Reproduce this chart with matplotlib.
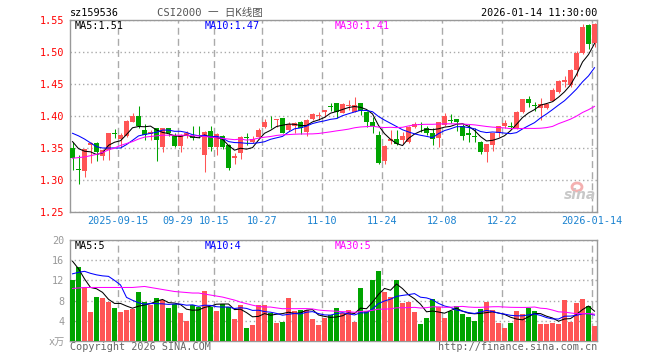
import numpy as np
import pandas as pd
import matplotlib
matplotlib.use("Agg")
import matplotlib.pyplot as plt
from matplotlib.patches import Ellipse

plt.rcParams['font.family'] = ['DejaVu Sans Mono', 'Noto Sans CJK SC']

# daily candles, 2025-09-03 .. 2026-01-14 (88 sessions)
opens = [1.350, 1.317, 1.314, 1.355, 1.358, 1.338, 1.347, 1.374, 1.364, 1.368,
         1.391, 1.400, 1.378, 1.372, 1.381, 1.352, 1.381, 1.369, 1.353, 1.370,
         1.369, 1.370, 1.339, 1.377, 1.352, 1.369, 1.355, 1.335, 1.342, 1.367,
         1.360, 1.367, 1.383, 1.391, 1.393, 1.397, 1.378, 1.385, 1.391, 1.375,
         1.396, 1.400, 1.406, 1.416, 1.420, 1.405, 1.415, 1.407, 1.420, 1.407,
         1.390, 1.370, 1.329, 1.361, 1.364, 1.362, 1.360, 1.383, 1.388, 1.381,
         1.374, 1.366, 1.386, 1.394, 1.395, 1.384, 1.373, 1.368, 1.360, 1.344,
         1.354, 1.373, 1.384, 1.385, 1.381, 1.406, 1.426, 1.417, 1.413, 1.413,
         1.424, 1.438, 1.453, 1.449, 1.472, 1.498, 1.542, 1.514]
highs = [1.360, 1.339, 1.349, 1.360, 1.359, 1.349, 1.374, 1.380, 1.374, 1.393,
         1.404, 1.415, 1.387, 1.378, 1.382, 1.381, 1.382, 1.374, 1.372, 1.377,
         1.384, 1.384, 1.376, 1.384, 1.373, 1.370, 1.356, 1.342, 1.368, 1.374,
         1.368, 1.382, 1.395, 1.400, 1.396, 1.397, 1.391, 1.390, 1.392, 1.395,
         1.404, 1.407, 1.410, 1.421, 1.421, 1.421, 1.425, 1.429, 1.421, 1.408,
         1.399, 1.377, 1.354, 1.378, 1.378, 1.375, 1.384, 1.391, 1.391, 1.384,
         1.382, 1.391, 1.404, 1.403, 1.396, 1.388, 1.387, 1.381, 1.361, 1.357,
         1.374, 1.385, 1.394, 1.391, 1.408, 1.427, 1.432, 1.422, 1.428, 1.419,
         1.444, 1.456, 1.462, 1.473, 1.501, 1.544, 1.543, 1.545]
lows = [1.316, 1.294, 1.304, 1.327, 1.330, 1.331, 1.331, 1.365, 1.352, 1.367,
        1.390, 1.381, 1.363, 1.362, 1.329, 1.343, 1.368, 1.352, 1.343, 1.365,
        1.363, 1.365, 1.313, 1.346, 1.339, 1.348, 1.315, 1.325, 1.333, 1.354,
        1.358, 1.365, 1.382, 1.382, 1.383, 1.373, 1.377, 1.373, 1.372, 1.369,
        1.393, 1.394, 1.399, 1.408, 1.397, 1.404, 1.409, 1.406, 1.402, 1.383,
        1.374, 1.325, 1.325, 1.356, 1.354, 1.356, 1.358, 1.382, 1.375, 1.370,
        1.355, 1.352, 1.385, 1.389, 1.377, 1.362, 1.359, 1.359, 1.340, 1.328,
        1.345, 1.367, 1.381, 1.379, 1.380, 1.405, 1.414, 1.408, 1.394, 1.411,
        1.423, 1.436, 1.446, 1.446, 1.462, 1.497, 1.505, 1.508]
closes = [1.334, 1.315, 1.348, 1.358, 1.344, 1.347, 1.374, 1.372, 1.370, 1.392,
          1.400, 1.384, 1.370, 1.375, 1.362, 1.381, 1.374, 1.353, 1.370, 1.374,
          1.365, 1.368, 1.375, 1.352, 1.372, 1.352, 1.319, 1.338, 1.367, 1.365,
          1.364, 1.378, 1.391, 1.390, 1.395, 1.374, 1.387, 1.389, 1.381, 1.394,
          1.403, 1.402, 1.409, 1.414, 1.407, 1.419, 1.417, 1.417, 1.408, 1.390,
          1.384, 1.327, 1.353, 1.364, 1.357, 1.368, 1.383, 1.387, 1.386, 1.373,
          1.364, 1.390, 1.400, 1.392, 1.390, 1.368, 1.370, 1.367, 1.344, 1.356,
          1.373, 1.384, 1.389, 1.383, 1.406, 1.426, 1.420, 1.415, 1.418, 1.418,
          1.441, 1.455, 1.457, 1.472, 1.499, 1.539, 1.513, 1.543]
volumes = [12.08, 14.6, 10.6, 5.74, 8.71, 8.5, 7.72, 6.53, 5.74, 6.14,
           6.34, 9.7, 7.72, 7.13, 8.5, 8.1, 6.53, 7.33, 5.54, 3.96,
           7.13, 6.73, 9.9, 6.73, 5.94, 7.33, 6.73, 4.36, 7.13, 2.57,
           3.17, 7.13, 7.13, 5.54, 3.56, 3.76, 8.5, 5.94, 6.14, 6.14,
           4.36, 3.17, 4.55, 5.15, 6.53, 5.61, 6.14, 3.76, 10.5, 5.94,
           12.08, 13.86, 9.7, 8.71, 12.08, 7.52, 7.72, 5.74, 3.37, 4.55,
           8.32, 6.73, 4.55, 5.94, 6.93, 5.35, 4.75, 3.96, 6.34, 7.72,
           6.14, 3.56, 2.57, 3.56, 5.94, 5.35, 6.53, 5.94, 3.37, 3.37,
           3.56, 3.37, 8.12, 3.76, 7.52, 8.32, 6.93, 2.99]

# moving-average values at the left edge (their windows start before the chart)
ma5_head = [1.360, 1.349, 1.345, 1.344]
ma10_head = [1.373, 1.369, 1.364, 1.358, 1.352, 1.350, 1.350, 1.350, 1.350]
ma30_head = [1.334, 1.335, 1.336, 1.338, 1.340, 1.343, 1.347, 1.350, 1.354, 1.357,
             1.360, 1.364, 1.367, 1.368, 1.369, 1.370, 1.370, 1.370, 1.370, 1.370,
             1.369, 1.369, 1.368, 1.367, 1.366, 1.365, 1.364, 1.363, 1.364]
vma5_head = [15.8, 14.3, 12.3, 10.6]
vma10_head = [13.3, 13.6, 13.8, 13.4, 13.1, 12.9, 12.8, 12.0, 11.1]
vma30_head = [10.4, 10.5, 10.6, 10.6, 10.6, 10.6, 10.6, 10.6, 10.6, 10.6,
              10.6, 10.7, 10.8, 10.6, 10.4, 10.2, 10.0, 9.8, 9.7, 9.6,
              9.5, 9.5, 9.3, 9.1, 8.9, 8.7, 8.4, 8.1, 7.7]

tick_idx = [8, 18, 24, 32, 42, 52, 62, 72, 87]
tick_labels = ["2025-09-15", "09-29", "10-15", "10-27", "11-10", "11-24",
               "12-08", "12-22", "2026-01-14"]
price_ticks = [1.25, 1.30, 1.35, 1.40, 1.45, 1.50, 1.55]
vol_ticks = [0, 4, 8, 12, 16, 20]


def moving_avg(values, n, head):
    s = pd.Series(values).rolling(n).mean().to_numpy()
    s[:len(head)] = head
    return s


RED = '#ff5555'
GREEN = '#00a400'
GRID = '#aaaaaa'
LW = 0.75

o = np.array(opens); h = np.array(highs); l = np.array(lows); c = np.array(closes)
v = np.array(volumes)
n = len(c)
x = np.arange(n)
up = c >= o
col = np.where(up, RED, GREEN)
xc = x + 0.42

fig = plt.figure(figsize=(6.6, 3.6), dpi=100)
ax = fig.add_axes([70/660, 1-212/360, 527/660, 192/360])
axv = fig.add_axes([70/660, 1-341/360, 527/660, 101/360])

# price panel
ax.vlines(xc, l, h, colors=col, lw=LW, zorder=3)
body = np.maximum(np.abs(c - o), 0.0012)
ax.bar(xc, body, bottom=np.minimum(o, c), width=0.78, color=col, zorder=4)
ax.plot(xc, moving_avg(c, 5, ma5_head), color='black', lw=LW, zorder=5)
ax.plot(xc, moving_avg(c, 10, ma10_head), color='#0000ff', lw=LW, zorder=5)
ax.plot(xc, moving_avg(c, 30, ma30_head), color='#ff00ff', lw=LW, zorder=5)
ax.set_xlim(0, 527/6)
ax.set_ylim(1.25, 1.55)
ax.set_yticks(price_ticks)
ax.set_yticklabels([f"{t:.2f}" for t in price_ticks], color='red', fontsize=7.3)
ax.set_xticks(tick_idx)
ax.set_xticklabels(tick_labels, color='#1a82d0', fontsize=7.3)

# volume panel
axv.bar(x + 0.42, v, width=0.82, color=col, zorder=3)
axv.plot(xc, moving_avg(v, 5, vma5_head), color='black', lw=LW, zorder=5)
axv.plot(xc, moving_avg(v, 10, vma10_head), color='#0000ff', lw=LW, zorder=5)
axv.plot(xc, moving_avg(v, 30, vma30_head), color='#ff00ff', lw=LW, zorder=5)
axv.set_xlim(0, 527/6)
axv.set_ylim(0, 20)
axv.set_yticks(vol_ticks)
axv.set_yticklabels(["x万"] + [str(t) for t in vol_ticks[1:]], color='#999999', fontsize=7.3)
axv.set_xticks(tick_idx)
axv.set_xticklabels([])

for a in (ax, axv):
    a.tick_params(length=0, pad=4)
    a.grid(axis='x', color=GRID, lw=1, ls=(0, (5, 3)), zorder=1)
    a.grid(axis='y', color=GRID, lw=1, ls=(0, (1, 2)), zorder=1)
    for sp in a.spines.values():
        sp.set_color('#999999')
        sp.set_linewidth(1)
ax.tick_params(axis='x', pad=3)

# legends inside panels
def px(xp, yp):
    return xp/660, 1 - yp/360

kw = dict(fontsize=7.3, va='center', ha='left')
fig.text(*px(75, 26), "MA5:1.51", color='black', **kw)
fig.text(*px(205, 26), "MA10:1.47", color='#0000ff', **kw)
fig.text(*px(335, 26), "MA30:1.41", color='#ff00ff', **kw)
fig.text(*px(75, 246), "MA5:5", color='black', **kw)
fig.text(*px(205, 246), "MA10:4", color='#0000ff', **kw)
fig.text(*px(335, 246), "MA30:5", color='#ff00ff', **kw)

# header
fig.text(*px(70, 13), "sz159536", color='black', fontsize=7.3, va='center', ha='left')
fig.text(*px(210, 13), "CSI2000 一 日K线图", color='#555555', fontsize=7.6,
         va='center', ha='center')
fig.text(*px(597, 13), "2026-01-14 11:30:00", color='black', fontsize=7.3,
         va='center', ha='right')

# footer
fig.text(*px(70, 347), "Copyright 2026 SINA.COM", color='#666666', fontsize=7.3,
         va='center', ha='left')
fig.text(*px(597, 347), "http://finance.sina.com.cn", color='#666666', fontsize=7.3,
         va='center', ha='right')

# watermark
fig.patches.append(Ellipse(px(577, 187), 10/660, 8/360, transform=fig.transFigure,
                           fill=False, ec='#f4b0b0', lw=2))
fig.text(*px(580, 195), "sina", color='#c8c8c8', fontsize=10, fontweight='bold',
         style='italic', va='center', ha='center', family='DejaVu Sans')

fig.savefig("out.png", dpi=100)
